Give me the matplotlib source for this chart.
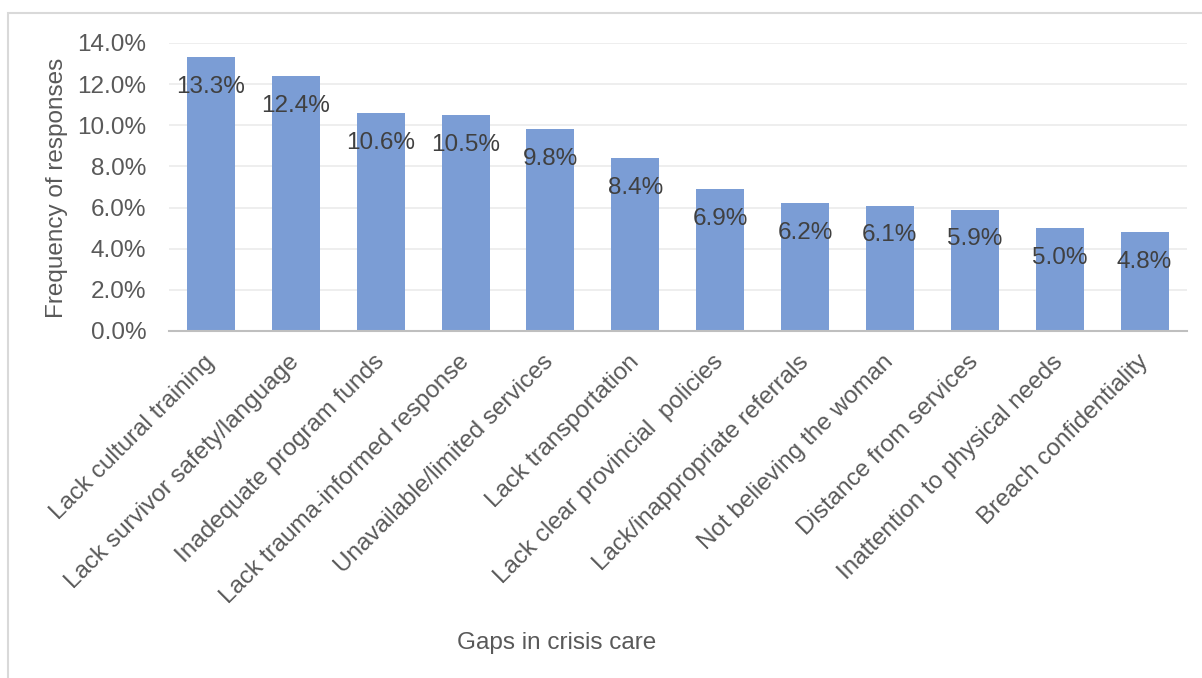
import matplotlib
matplotlib.use('Agg')
import matplotlib.pyplot as plt
from matplotlib.patches import Rectangle
from matplotlib.ticker import FuncFormatter

plt.rcParams['font.family'] = ['Liberation Sans', 'DejaVu Sans']

gaps = ['Lack cultural training', 'Lack survivor safety/language',
        'Inadequate program funds', 'Lack trauma-informed response',
        'Unavailable/limited services', 'Lack transportation',
        'Lack clear provincial  policies', 'Lack/inappropriate referrals',
        'Not believing the woman', 'Distance from services',
        'Inattention to physical needs', 'Breach confidentiality']
freq = [13.3, 12.4, 10.6, 10.5, 9.8, 8.4, 6.9, 6.2, 6.1, 5.9, 5.0, 4.8]

fig = plt.figure(figsize=(12.02, 6.78), dpi=100)

# light frame around the chart area
fig.patches.append(Rectangle((8 / 1202, -0.1), 1.2, 1 - 13 / 678 + 0.1,
                             transform=fig.transFigure, fill=False,
                             edgecolor='#d9d9d9', linewidth=1.5))

ax = fig.add_axes([0.1402, 0.5118, 0.8473, 0.4248])
x = range(len(gaps))
ax.bar(x, freq, width=0.565, color='#7b9dd5', zorder=2)

for xi, v in zip(x, freq):
    ax.annotate(f'{v:.1f}%', (xi, v), xytext=(0, -21.5), textcoords='offset points',
                ha='center', va='center', fontsize=17.5, color='#404040', zorder=3)

ax.set_xlim(-0.5, len(gaps) - 0.5)
ax.set_ylim(0, 14)
ax.set_yticks(range(0, 15, 2))
ax.yaxis.set_major_formatter(FuncFormatter(lambda v, p: f'{v:.1f}%'))
ax.grid(axis='y', color='#ebebeb', linewidth=1.2, zorder=0)
ax.tick_params(axis='y', length=0, pad=16, labelsize=17.5, labelcolor='#595959')
ax.tick_params(axis='x', length=0, pad=20, labelsize=17.5, labelcolor='#595959')
ax.set_xticks(list(x))
ax.set_xticklabels(gaps, rotation=45, ha='right', va='center',
                   rotation_mode='anchor')
for s in ['top', 'right', 'left']:
    ax.spines[s].set_visible(False)
ax.spines['bottom'].set_color('#bfbfbf')
ax.spines['bottom'].set_linewidth(1.5)

fig.text(57 / 1202, 1 - 188 / 678, 'Frequency of responses', rotation=90,
         ha='center', va='center', fontsize=17.5, color='#595959')
fig.text(557 / 1202, 1 - 643 / 678, 'Gaps in crisis care',
         ha='center', va='center', fontsize=17.5, color='#595959')

fig.savefig('out.png', dpi=100)
